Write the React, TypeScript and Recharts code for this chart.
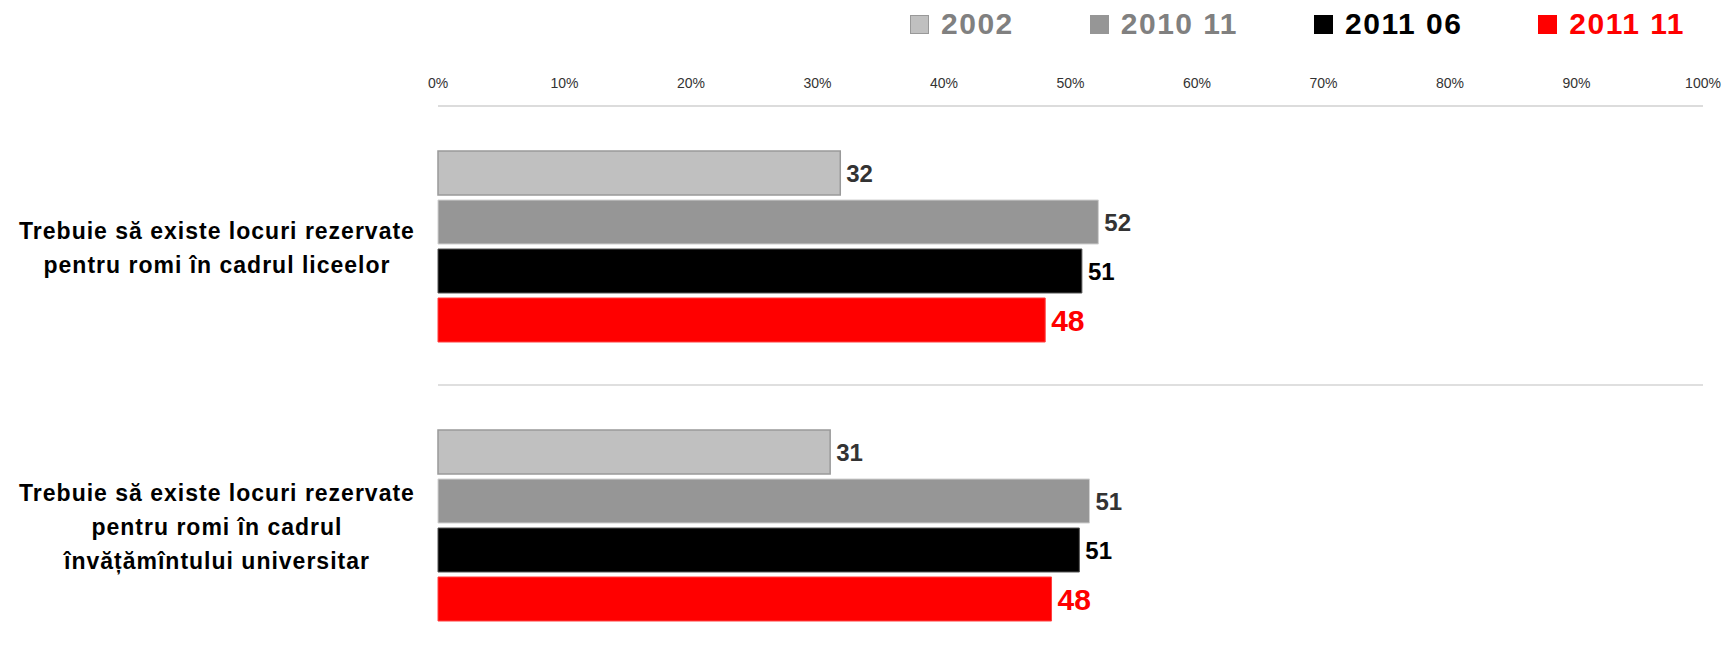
import { BarChart, Bar, XAxis, YAxis, CartesianGrid, LabelList } from 'recharts';

const categories = [
  'Trebuie să existe locuri rezervate\npentru romi în cadrul liceelor',
  'Trebuie să existe locuri rezervate\npentru romi în cadrul\nînvățămîntului universitar',
];

// bar lengths, printed labels as shown
const values2002 = [31.8, 31.0];
const values201011 = [52.2, 51.5];
const values201106 = [50.9, 50.7];
const values201111 = [48.0, 48.5];

const labels2002 = [32, 31];
const labels201011 = [52, 51];
const labels201106 = [51, 51];
const labels201111 = [48, 48];

const percentTicks = [0, 10, 20, 30, 40, 50, 60, 70, 80, 90, 100];

const series = [
  { key: 's2002', label: 'l2002', name: '2002', fill: '#c0c0c0', stroke: '#999999', text: '#808080', valueColor: '#333333', valueSize: 24 },
  { key: 's201011', label: 'l201011', name: '2010 11', fill: '#969696', stroke: '#d0d0d0', text: '#808080', valueColor: '#333333', valueSize: 24 },
  { key: 's201106', label: 'l201106', name: '2011 06', fill: '#000000', stroke: '#555555', text: '#000000', valueColor: '#000000', valueSize: 24 },
  { key: 's201111', label: 'l201111', name: '2011 11', fill: '#ff0000', stroke: '#ff4040', text: '#ff0000', valueColor: '#ff0000', valueSize: 30 },
];

const data = categories.map((category, i) => ({
  category,
  s2002: values2002[i],
  s201011: values201011[i],
  s201106: values201106[i],
  s201111: values201111[i],
  l2002: labels2002[i],
  l201011: labels201011[i],
  l201106: labels201106[i],
  l201111: labels201111[i],
}));

const FONT = "'Liberation Sans', Arial, Helvetica, sans-serif";

const CategoryTick = (props: any) => {
  const { x, y, payload } = props;
  const lines = String(payload.value).split('\n');
  const lineHeight = 34;
  const firstDy = -((lines.length - 1) * lineHeight) / 2 + 10;
  const cx = x - 221;
  return (
    <text
      x={cx}
      y={y}
      textAnchor="middle"
      fontSize={23}
      fontWeight={700}
      letterSpacing={1}
      fill="#000"
      fontFamily={FONT}
    >
      {lines.map((line, i) => (
        <tspan key={i} x={cx} dy={i === 0 ? firstDy : lineHeight}>
          {line}
        </tspan>
      ))}
    </text>
  );
};

export default function App() {
  return (
    <div style={{ position: 'relative', width: 1717, height: 643, overflow: 'hidden', background: '#fff', fontFamily: FONT }}>
      <div
        style={{
          position: 'absolute',
          top: 1,
          right: 40,
          display: 'flex',
          alignItems: 'center',
          gap: 76,
          height: 30,
        }}
      >
        {series.map((s) => (
          <div key={s.key} style={{ display: 'flex', alignItems: 'center' }}>
            <span
              style={{
                display: 'inline-block',
                width: 17,
                height: 17,
                background: s.fill,
                border: `1px solid ${s.key === 's2002' ? '#999' : s.fill}`,
                marginRight: 12,
              }}
            />
            <span style={{ fontSize: 30, fontWeight: 700, lineHeight: '30px', letterSpacing: 1.5, color: s.text }}>
              {s.name}
            </span>
          </div>
        ))}
      </div>
      <BarChart
        width={1717}
        height={656}
        data={data}
        layout="vertical"
        margin={{ top: 58, right: 22, bottom: 0, left: 0 }}
        barCategoryGap={45}
        barGap={5}
      >
        <CartesianGrid
          vertical={false}
          stroke="#d4d4d4"
          strokeWidth={1.5}
          horizontalCoordinatesGenerator={({ offset }: any) => [offset.top + offset.height / 2]}
        />
        <XAxis
          type="number"
          orientation="top"
          domain={[0, 100]}
          ticks={percentTicks}
          tickFormatter={(v) => `${v}%`}
          height={40}
          tickLine={false}
          tickSize={0}
          tickMargin={18}
          axisLine={{ stroke: '#d0d0d0', strokeWidth: 1.5 }}
          tick={{ fontSize: 14, fill: '#333', fontFamily: FONT }}
          interval={0}
        />
        <YAxis
          type="category"
          dataKey="category"
          width={430}
          axisLine={false}
          tickLine={false}
          tickSize={0}
          tickMargin={0}
          tick={<CategoryTick />}
          interval={0}
        />
        {series.map((s) => (
          <Bar
            key={s.key}
            dataKey={s.key}
            name={s.name}
            fill={s.fill}
            stroke={s.stroke}
            strokeWidth={s.key === 's2002' ? 1.5 : 1}
            isAnimationActive={false}
          >
            <LabelList
              dataKey={s.label}
              position="right"
              offset={6}
              fill={s.valueColor}
              fontSize={s.valueSize}
              fontWeight={700}
              fontFamily={FONT}
            />
          </Bar>
        ))}
      </BarChart>
    </div>
  );
}
